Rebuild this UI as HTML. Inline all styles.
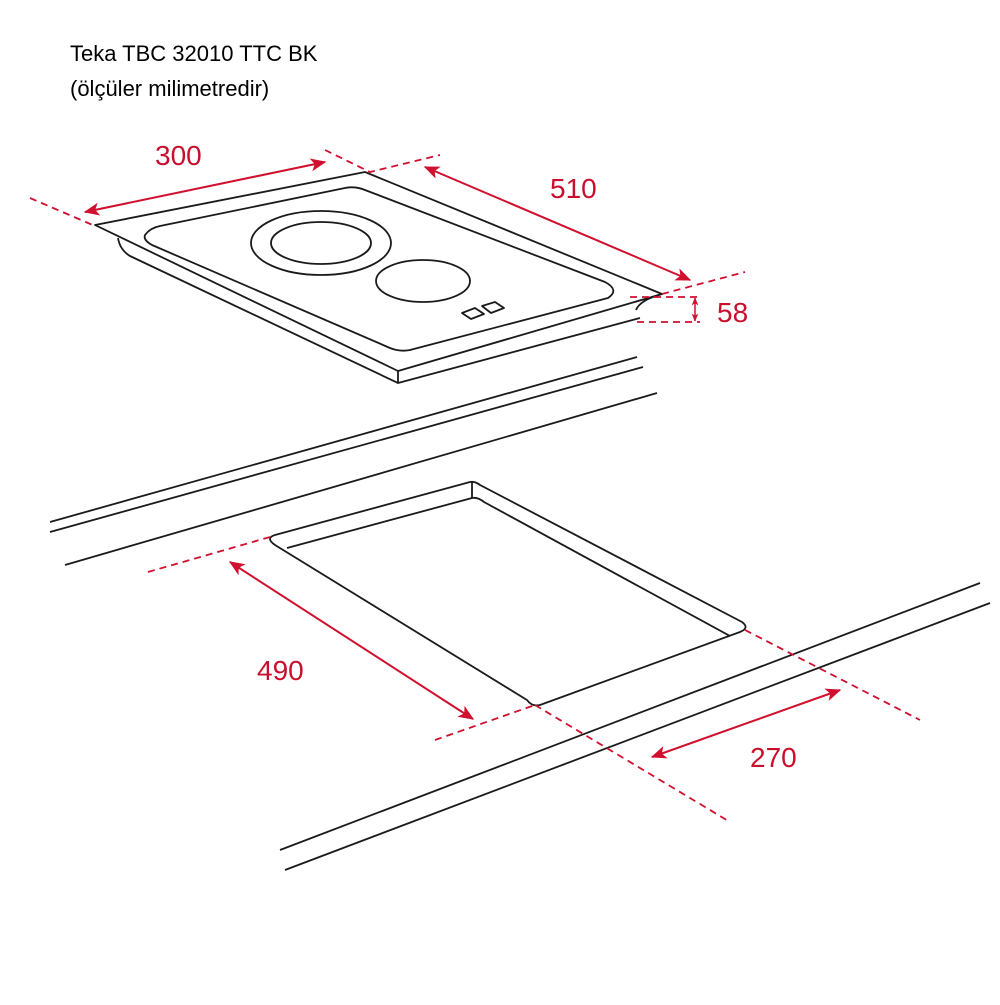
<!DOCTYPE html>
<html><head><meta charset="utf-8"><style>
html,body{margin:0;padding:0;background:#fff}
</style></head><body>
<svg width="1000" height="1000" viewBox="0 0 1000 1000" xmlns="http://www.w3.org/2000/svg">
<rect width="1000" height="1000" fill="#fff"/>
<text x="70" y="61" font-family="Liberation Sans, sans-serif" font-size="22" fill="#000">Teka TBC 32010 TTC BK</text>
<text x="70" y="96" font-family="Liberation Sans, sans-serif" font-size="22" fill="#000">(ölçüler milimetredir)</text>
<defs>
<marker id="a" viewBox="0 0 12 10" refX="11" refY="5" markerWidth="8" markerHeight="7" orient="auto-start-reverse" markerUnits="userSpaceOnUse"><path d="M0,0 L12,5 L0,10 L3,5 z" fill="#d0102e"/></marker>
<marker id="b" viewBox="0 0 12 10" refX="11" refY="5" markerWidth="16" markerHeight="13" orient="auto-start-reverse" markerUnits="userSpaceOnUse"><path d="M0,0 L12,5 L0,10 L3,5 z" fill="#d0102e"/></marker>
</defs>
<g fill="none" stroke="#1a1a1a" stroke-width="1.8" stroke-linejoin="round">
<path d="M95,225 L365,172 L662,294 L398,371 Z"/>
<path d="M398,371 L398,383 L640,318"/>
<path d="M118,238 Q120,250 130,256 L398,383"/>
<path d="M662,294 Q640,300 636,310"/>
<path d="M145,235 Q150,228 160,226 L345,188 Q355,186 365,190 L605,282 Q620,290 608,298 L410,350 Q400,352 390,348 L152,245 Q143,240 145,235 Z"/>
<ellipse cx="321" cy="243" rx="70" ry="32"/>
<ellipse cx="321" cy="243" rx="50" ry="21"/>
<ellipse cx="423" cy="281" rx="47" ry="21"/>
<path d="M462,313 L475,308 L484,314 L471,319 Z"/>
<path d="M482,306 L495,302 L504,308 L491,313 Z"/>
<path d="M50,522 L637,357"/>
<path d="M50,532 L643,367"/>
<path d="M65,565 L657,393"/>
<path d="M470,482 Q475,481 480,485 L742,622 Q750,628 740,632 L540,705 Q532,707 527,700 L275,545 Q265,538 275,535 Z"/>
<path d="M472,482 L472,498"/>
<path d="M287,548 L472,498 Q478,497 484,502 L730,636"/>
<path d="M280,850 L980,583"/>
<path d="M285,870 L990,603"/>
</g>
<g fill="none" stroke="#d0102e" stroke-width="1.8" stroke-dasharray="7,5">
<path d="M30,198 L95,226"/>
<path d="M325,150 L370,172 L440,155"/>
<path d="M662,294 L745,272"/>
<path d="M630,297 L700,297"/>
<path d="M637,322 L700,322"/>
<path d="M148,572 L270,537"/>
<path d="M435,740 L535,705"/>
<path d="M535,705 L730,822"/>
<path d="M745,630 L920,720"/>
</g>
<g stroke="#d0102e" stroke-width="2" fill="none">
<path d="M85,212 L325,162" marker-start="url(#b)" marker-end="url(#b)"/>
<path d="M425,167 L690,280" marker-start="url(#b)" marker-end="url(#b)"/>
<path d="M695,298 L695,321" stroke-width="1.5" marker-start="url(#a)" marker-end="url(#a)"/>
<path d="M230,562 L473,719" marker-start="url(#b)" marker-end="url(#b)"/>
<path d="M652,757 L840,690" marker-start="url(#b)" marker-end="url(#b)"/>
</g>
<g font-family="Liberation Sans, sans-serif" font-size="28" fill="#c8102e">
<text x="155" y="165">300</text>
<text x="550" y="198">510</text>
<text x="717" y="322">58</text>
<text x="257" y="680">490</text>
<text x="750" y="767">270</text>
</g>
</svg>
</body></html>
